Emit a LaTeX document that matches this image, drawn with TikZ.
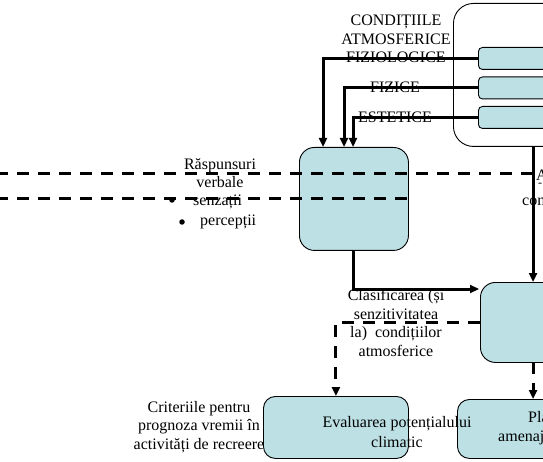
\documentclass[tikz,border=0pt]{standalone}
\usepackage{fontspec}
\setmainfont{Liberation Serif}
\usetikzlibrary{arrows.meta,calc}
\definecolor{boxfill}{RGB}{188,224,228}
\begin{document}
\begin{tikzpicture}[x=1pt,y=-1pt,
  box/.style={draw=black, line width=0.9pt, fill=boxfill, rounded corners=#1, inner sep=0pt, anchor=north west},
  box/.default=12pt,
  lbl/.style={font=\fontsize{16}{18.7}\selectfont, align=center, inner sep=0pt},
  bullet/.style={circle, fill=black, inner sep=0pt, minimum size=5.5pt},
  conn/.style={line width=3pt, -{Triangle[length=9pt,width=8pt]}},
  dashline/.style={line width=3pt, dash pattern=on 12pt off 9pt, dash phase=4pt},
  dasharr/.style={line width=3pt, dash pattern=on 12pt off 9pt, -{Triangle[length=9pt,width=8pt]}}]
\useasboundingbox (0,0) rectangle (543,462);
\fill[white] (0,0) rectangle (543,462);
% boxes
\node[box=20pt, fill=white, minimum width=170pt, minimum height=143pt] (big) at (453,3) {};
\node[box=4pt, minimum width=142pt, minimum height=22pt] (f1) at (478,47) {};
\node[box=4pt, minimum width=142pt, minimum height=22pt] (f2) at (478,76.5) {};
\node[box=4pt, minimum width=142pt, minimum height=22pt] (f3) at (478,106) {};
\node[box=15pt, minimum width=109pt, minimum height=103pt] (mid) at (299,147) {};
\node[box=15pt, minimum width=140pt, minimum height=80pt] (rb) at (480,282) {};
\node[box=12pt, minimum width=145pt, minimum height=62pt] (ev) at (263,396) {};
\node[box=12pt, minimum width=163pt, minimum height=59pt] (br) at (457,399) {};
% labels
\node[lbl] (tcond) at (396,39) {CONDIȚIILE\\ATMOSFERICE\\FIZIOLOGICE};
\node[lbl] (tfiz) at (395,87) {FIZICE};
\node[lbl] (test) at (395,117) {ESTETICE};
\node[lbl] (trasp) at (220,173) {Răspunsuri\\verbale};
\node[bullet] (b1) at (172,200) {};
\node[lbl, anchor=west] (tsenz) at (193,202) {senzații};
\node[bullet] (b2) at (182,222) {};
\node[lbl, anchor=west] (tperc) at (200,222) {percepții};
\node[lbl] (tclas) at (396,323) {Clasificarea (și\\senzitivitatea\\la)\ \ condițiilor\\atmosferice};
\node[lbl] (tcrit) at (199,427) {Criteriile pentru\\prognoza vremii în\\activități de recreere};
\node[lbl, font=\fontsize{16}{20}\selectfont] (tev) at (397,432) {Evaluarea potențialului\\climatic};
\node[lbl, anchor=west] (tpla) at (528,417) {Planificarea};
\node[lbl, anchor=west] (tamen) at (498,438) {amenajarea};
\node[lbl, anchor=west] (ta) at (536,175) {A};
\node[lbl, anchor=west, font=\fontsize{12}{12}\selectfont] (tdash) at (538,185) {-};
\node[lbl, anchor=west] (tcon) at (522,202) {condițiilor};
% dashed lines
\coordinate (d1s) at (0,174);
\coordinate (d2s) at (0,199);
\coordinate (c1) at (533,146);
\coordinate (c2) at (533,362);
\draw[dashline] (d1s) -- (d1s -| c1);
\draw[dashline] (d2s) -- (d2s -| mid.east);
% connectors
\draw[conn] (f1.west) -| ($(mid.north west)+(24,0)$);
\draw[conn] (f2.west) -| ($(mid.north west)+(45,0)$);
\draw[conn] (f3.west) -| ($(mid.north west)+(54,0)$);
\draw[conn] (c1) -- (c1 |- rb.north);
\draw[conn] (mid.south) |- ($(rb.north west)+(-1,7)$);
\draw[dasharr] (rb.west) -| (ev.north);
\draw[dasharr] (c2) -- (c2 |- br.north);
\end{tikzpicture}
\end{document}
